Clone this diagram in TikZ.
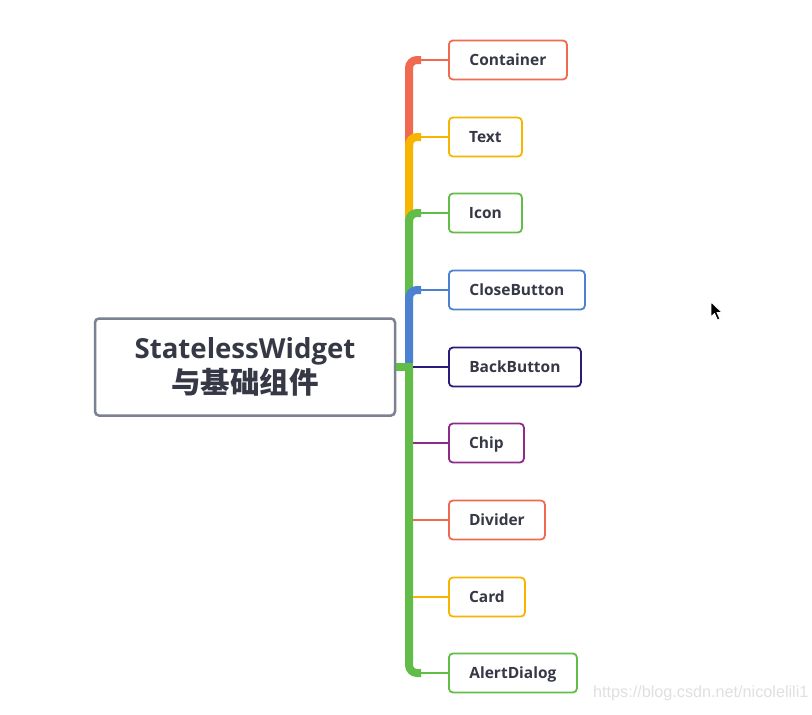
\documentclass[tikz,border=0pt]{standalone}
\usepackage{fontspec}
\setmainfont{Open Sans}
\newfontfamily\cjk{Noto Sans CJK SC}
\newfontfamily\wmfont{Liberation Sans}
\definecolor{rootgray}{HTML}{7B8191}
\definecolor{cred}{HTML}{F06A52}
\definecolor{corange}{HTML}{F7B500}
\definecolor{cgreen}{HTML}{62BD48}
\definecolor{cblue}{HTML}{4C80D0}
\definecolor{cnavy}{HTML}{2B1C78}
\definecolor{cpurple}{HTML}{8E2A88}
\definecolor{txt}{HTML}{363845}
\tikzset{
  rootbox/.style={draw=rootgray, line width=2.5pt, rounded corners=4pt, fill=white,
    minimum width=300pt, minimum height=97pt, text=txt, align=center, inner sep=0pt},
  leaf/.style={draw=#1, line width=1.8pt, rounded corners=4pt, fill=white, anchor=west,
    minimum height=39pt, text=txt, inner sep=0pt, text height=11pt, text depth=0pt,
    font=\bfseries\fontsize{15.5}{17}\selectfont},
  trunk/.style={line width=8pt, rounded corners=8pt, line cap=butt},
  twig/.style={line width=2.5pt},
}
\begin{document}
\begin{tikzpicture}[x=1pt,y=-1pt]
\useasboundingbox (0,0) rectangle (812,715);
\fill[white] (0,0) rectangle (812,715);

% nodes
\node[rootbox] (root) at (245,367) {{\bfseries\fontsize{27.6}{32}\selectfont StatelessWidget}\\[2pt]{\cjk\bfseries\fontsize{29.5}{33}\selectfont 与基础组件}};
\node[leaf=cred, minimum width=118pt] (n1) at (448,60) {Container};
\node[leaf=corange, minimum width=73pt] (n2) at (448,137) {Text};
\node[leaf=cgreen, minimum width=73pt] (n3) at (448,213) {Icon};
\node[leaf=cblue, minimum width=136pt] (n4) at (448,290) {CloseButton};
\node[leaf=cnavy, minimum width=132pt] (n5) at (448,367) {BackButton};
\node[leaf=cpurple, minimum width=75pt] (n6) at (448,443) {Chip};
\node[leaf=cred, minimum width=96pt] (n7) at (448,520) {Divider};
\node[leaf=corange, minimum width=76pt] (n8) at (448,597) {Card};
\node[leaf=cgreen, minimum width=128pt] (n9) at (448,673) {AlertDialog};

% junction coordinates
\coordinate (j) at (409,367);
\coordinate (t1) at (409,60);
\coordinate (t2) at (409,137);
\coordinate (t3) at (409,213);
\coordinate (t4) at (409,290);
\coordinate (t6) at (409,443);
\coordinate (t7) at (409,520);
\coordinate (t8) at (409,597);
\coordinate (t9) at (409,673);

% trunk lower
\draw[trunk, cgreen] (j) -- (t9) -- ([xshift=12pt]t9);
% trunk segments (upper), each overlapping the next one down
\draw[trunk, cred] ([yshift=-10pt]t2) -- (t1) -- ([xshift=12pt]t1);
\draw[trunk, corange] ([yshift=-10pt]t3) -- (t2) -- ([xshift=12pt]t2);
\draw[trunk, cgreen] ([yshift=-10pt]t4) -- (t3) -- ([xshift=12pt]t3);
\draw[trunk, cblue] ([yshift=4pt]j) -- (t4) -- ([xshift=12pt]t4);
% root connector
\draw[cgreen, line width=8pt] (root.east) -- ([xshift=4pt]j);

% twigs
\draw[twig, cred] ([xshift=10pt]t1) -- (n1.west);
\draw[twig, corange] ([xshift=10pt]t2) -- (n2.west);
\draw[twig, cgreen] ([xshift=10pt]t3) -- (n3.west);
\draw[twig, cblue] ([xshift=10pt]t4) -- (n4.west);
\draw[twig, cnavy] ([xshift=4pt]j) -- (n5.west);
\draw[twig, cpurple] ([xshift=4pt]t6) -- (n6.west);
\draw[twig, cred] ([xshift=4pt]t7) -- (n7.west);
\draw[twig, corange] ([xshift=4pt]t8) -- (n8.west);
\draw[twig, cgreen] ([xshift=10pt]t9) -- (n9.west);

% cursor
\filldraw[fill=black, draw=white, line width=0.8pt, line join=round]
  (711,302) -- (711,317) -- (714.5,313.5) -- (717.5,320) -- (720,319) -- (717,312.5) -- (722,312.5) -- cycle;

% watermark
\node[text=black!12, anchor=west, inner sep=0pt, font=\wmfont\fontsize{16.2}{18}\selectfont] (wm) at (593,693) {https://blog.csdn.net/nicolelili1};
\end{tikzpicture}
\end{document}
